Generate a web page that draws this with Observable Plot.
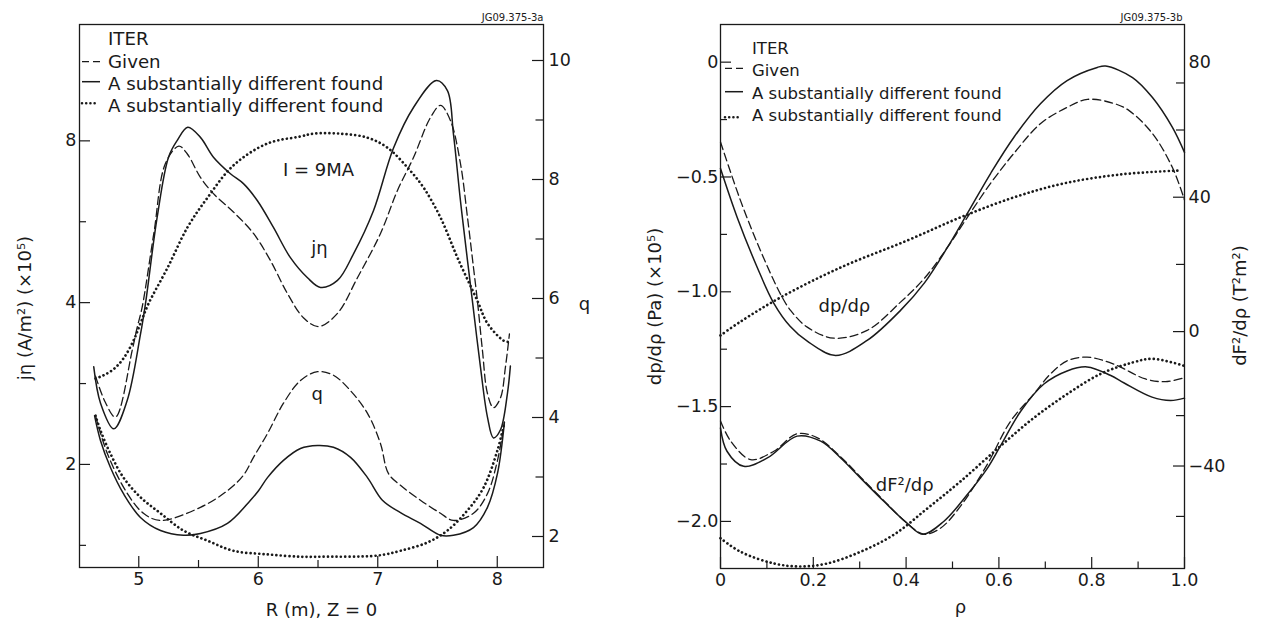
<!DOCTYPE html>
<html><head><meta charset="utf-8">
<script src="https://cdn.jsdelivr.net/npm/d3@7"></script>
<script src="https://cdn.jsdelivr.net/npm/@observablehq/plot@0.6"></script>
<style>
html,body{margin:0;padding:0;background:#fff;}
#root{position:relative;width:1265px;height:621px;overflow:hidden;}
.panel{position:absolute;top:0;height:621px;}
.panel svg{position:absolute;left:0;top:0;}
</style></head><body>
<div id="root"><div id="L" class="panel" style="left:0;width:632px"></div><div id="R" class="panel" style="left:632px;width:633px"></div></div>
<script>
// ---------- Left panel data: R (m) ----------
const R_jGiven = [4.638, 4.72, 4.805, 4.945, 4.987, 5.028, 5.126, 5.223, 5.335, 5.405, 5.516, 5.625, 5.792, 5.960, 6.102, 6.244, 6.378, 6.504, 6.663, 6.830, 7.023, 7.165, 7.299, 7.441, 7.525, 7.608, 7.692, 7.751, 7.801, 7.834, 7.876, 7.918, 7.968, 8.027, 8.069, 8.102];
const jGiven   = [2.92, 2.61, 2.45, 3.26, 3.60, 3.92, 5.38, 7.26, 7.82, 7.57, 6.84, 6.38, 5.90, 5.38, 4.79, 4.16, 3.75, 3.61, 3.82, 4.45, 5.38, 6.47, 7.45, 8.84, 9.31, 8.73, 7.26, 5.76, 4.65, 4.03, 3.26, 2.71, 2.55, 2.66, 3.04, 3.50];
const R_jFound = [4.623, 4.680, 4.791, 4.903, 5.014, 5.056, 5.154, 5.249, 5.321, 5.410, 5.516, 5.625, 5.767, 5.876, 5.993, 6.127, 6.269, 6.412, 6.521, 6.663, 6.797, 6.964, 7.131, 7.299, 7.491, 7.583, 7.633, 7.692, 7.751, 7.792, 7.859, 7.918, 7.968, 8.027, 8.085, 8.110];
const jFound   = [3.04, 2.60, 2.33, 2.63, 3.49, 3.98, 5.77, 7.46, 8.01, 8.48, 8.12, 7.46, 6.95, 6.66, 6.19, 5.52, 4.85, 4.45, 4.27, 4.40, 4.93, 5.93, 7.75, 9.23, 10.36, 9.92, 8.25, 6.19, 4.79, 4.03, 3.04, 2.45, 2.24, 2.32, 2.71, 3.05];
const R_jAlt   = [4.638, 4.705, 4.791, 4.872, 4.956, 5.014, 5.081, 5.242, 5.407, 5.575, 5.792, 6.077, 6.353, 6.462, 6.688, 6.914, 7.081, 7.248, 7.383, 7.525, 7.667, 7.834, 7.918, 8.052, 8.094];
const jAlt     = [2.89, 2.93, 3.01, 3.15, 3.40, 3.66, 3.98, 4.65, 5.52, 6.27, 7.20, 7.91, 8.15, 8.25, 8.25, 8.11, 7.77, 7.14, 6.55, 5.76, 4.85, 4.03, 3.66, 3.40, 3.38];

const R_qGiven = [4.638, 4.738, 4.905, 5.039, 5.182, 5.516, 5.742, 5.876, 5.960, 6.077, 6.211, 6.353, 6.496, 6.629, 6.772, 6.914, 7.023, 7.089, 7.190, 7.357, 7.525, 7.633, 7.801, 7.918, 8.002, 8.060];
const qGiven   = [4.03, 3.39, 2.72, 2.39, 2.27, 2.49, 2.77, 3.03, 3.33, 3.73, 4.24, 4.62, 4.77, 4.71, 4.45, 4.07, 3.56, 3.06, 2.86, 2.61, 2.39, 2.27, 2.39, 2.72, 3.28, 3.92];
const R_qFound = [4.630, 4.680, 4.763, 4.872, 5.014, 5.182, 5.374, 5.516, 5.742, 5.935, 6.002, 6.077, 6.211, 6.353, 6.496, 6.629, 6.772, 6.914, 7.039, 7.190, 7.357, 7.525, 7.633, 7.801, 7.918, 8.002, 8.060];
const qFound   = [4.03, 3.61, 3.16, 2.72, 2.32, 2.10, 2.02, 2.05, 2.22, 2.61, 2.77, 2.99, 3.28, 3.48, 3.53, 3.50, 3.33, 2.99, 2.61, 2.40, 2.22, 2.02, 2.02, 2.15, 2.49, 3.06, 3.92];
const R_qAlt   = [4.638, 4.680, 4.763, 4.872, 5.014, 5.182, 5.374, 5.575, 5.792, 6.077, 6.353, 6.521, 6.998, 7.190, 7.416, 7.583, 7.751, 7.885, 8.002, 8.060];
const qAlt     = [4.03, 3.78, 3.39, 2.99, 2.66, 2.39, 2.10, 1.93, 1.76, 1.70, 1.66, 1.66, 1.68, 1.76, 1.90, 2.10, 2.44, 2.82, 3.45, 3.92];

// ---------- Right panel data: rho ----------
const rho_dpGiven = [0, 0.043, 0.086, 0.129, 0.151, 0.187, 0.244, 0.316, 0.388, 0.440, 0.489, 0.532, 0.582, 0.632, 0.690, 0.747, 0.791, 0.848, 0.880, 0.931, 0.974, 1.0];
const dpGiven     = [-0.348, -0.602, -0.820, -1.009, -1.081, -1.154, -1.202, -1.168, -1.045, -0.940, -0.807, -0.676, -0.528, -0.398, -0.267, -0.197, -0.162, -0.180, -0.210, -0.311, -0.459, -0.60];
const rho_dpFound = [0, 0.036, 0.079, 0.115, 0.150, 0.187, 0.248, 0.316, 0.388, 0.440, 0.489, 0.532, 0.582, 0.632, 0.690, 0.747, 0.812, 0.830, 0.888, 0.931, 0.974, 1.0];
const dpFound     = [-0.463, -0.676, -0.893, -1.05, -1.15, -1.215, -1.277, -1.212, -1.081, -0.960, -0.807, -0.659, -0.485, -0.328, -0.180, -0.080, -0.023, -0.017, -0.067, -0.154, -0.284, -0.393];
const rho_dpAlt   = [0, 0.043, 0.129, 0.259, 0.402, 0.517, 0.632, 0.740, 0.862, 0.987];
const dpAlt       = [-1.19, -1.13, -1.025, -0.894, -0.777, -0.676, -0.589, -0.528, -0.489, -0.472];

const rho_dFGiven = [0, 0.022, 0.065, 0.115, 0.165, 0.209, 0.259, 0.302, 0.352, 0.402, 0.438, 0.474, 0.517, 0.575, 0.625, 0.675, 0.711, 0.747, 0.790, 0.848, 0.916, 0.959, 1.0];
const dFGiven     = [-26.6, -32.6, -38.1, -35.6, -30.4, -31.6, -37.3, -43.3, -50.3, -57.0, -60.3, -58.5, -52.0, -39.5, -26.7, -18.6, -12.6, -8.7, -7.6, -9.7, -14.1, -14.9, -13.7];
const rho_dFFound = [0, 0.014, 0.050, 0.101, 0.165, 0.216, 0.259, 0.302, 0.352, 0.402, 0.436, 0.481, 0.532, 0.575, 0.603, 0.647, 0.697, 0.747, 0.790, 0.840, 0.870, 0.930, 0.970, 1.0];
const dFFound     = [-28.7, -35.6, -40.1, -37.6, -31.1, -32.6, -37.6, -43.6, -50.5, -57.0, -60.3, -56.5, -48.5, -40.7, -34.1, -23.7, -15.6, -11.7, -10.5, -13.0, -15.3, -19.5, -20.5, -19.8];
const rho_dFAlt   = [0, 0.043, 0.115, 0.172, 0.230, 0.302, 0.374, 0.446, 0.517, 0.603, 0.675, 0.747, 0.819, 0.888, 0.931, 1.0];
const dFAlt       = [-61.5, -65.5, -69.0, -69.9, -69.0, -65.5, -60.4, -52.6, -44.6, -34.1, -25.7, -18.6, -12.6, -9.2, -8.1, -10.2];

// ---------- ticks & labels ----------
const xTicksL = [5, 6, 7, 8];        const xMinorL = [5.5, 6.5, 7.5];
const jTicks  = [2, 4, 8];           const jMinor  = [1.414, 2.828, 5.657];
const qTicks  = [2, 4, 6, 8, 10];    const qMinor  = [3, 5, 7, 9];
const rhoTicks = [0, 0.2, 0.4, 0.6, 0.8, 1.0]; const rhoMinor = [0.1, 0.3, 0.5, 0.7, 0.9];
const dpTicks = [0, -0.5, -1.0, -1.5, -2.0];   const dpMinor = [-0.25, -0.75, -1.25, -1.75];
const dFLabels = [80, 40, 0, -40];  const dFTicks = [40, 0, -40];  const dFMinor = [74, 60, 20, -25, -55];

const legendTitle = "ITER";
const legendLabels = ["Given", "A substantially different found", "A substantially different found"];
const annJ  = [{x: 6.504, y: 7.04, t: "I = 9MA"}, {x: 6.512, y: 5.06, t: "jη"}];
const annQ  = [{x: 6.494, y: 4.39, t: "q"}];
const annDp = [{x: 0.267, y: -1.064, t: "dp/dρ"}];
const annDF = [{x: 0.397, y: -45.8, t: "dF²/dρ"}];

// ---------- helpers ----------
const INK = "#1a1a1a";
const FONT = "'DejaVu Sans', sans-serif";
const S = (xs, ys) => xs.map((x, i) => ({x, y: ys[i]}));
const st = {
  given: {stroke: INK, strokeWidth: 1.3, strokeDasharray: "8,4"},
  found: {stroke: INK, strokeWidth: 1.5},
  alt:   {stroke: INK, strokeWidth: 2.7, strokeDasharray: "0.01,4.3", strokeLinecap: "round"}
};
const line = (xs, ys, s) => Plot.line(S(xs, ys), {x: "x", y: "y", curve: "catmull-rom", ...s});
const minus = v => (v < 0 ? "\u2212" : "") + Math.abs(v);
const base = (w, ml, mr, mb) => ({
  width: w, height: 621, marginLeft: ml, marginRight: mr, marginTop: 24, marginBottom: mb,
  style: {fontFamily: FONT, fontSize: "17.5px", color: INK, background: "transparent", overflow: "visible"}
});

// ===== Left panel =====
const FWL = 464, FHL = 543;
const leftA = Plot.plot({
  ...base(632, 79, 89, 54),
  x: {domain: [4.504, 8.387], ticks: xTicksL, tickSize: 0, tickPadding: 5, label: null, tickFormat: d => String(d)},
  y: {type: "log", base: 2, domain: [1.286, 13.17], ticks: jTicks, tickSize: 0, tickPadding: 3, label: null, tickFormat: d => String(d)},
  marks: [
    Plot.frame({stroke: INK, strokeWidth: 1.3}),
    Plot.ruleX(xTicksL, {x: d => d, insetTop: FHL - 11, stroke: INK, strokeWidth: 1.2}),
    Plot.ruleX(xMinorL, {x: d => d, insetTop: FHL - 7, stroke: INK, strokeWidth: 1.2}),
    Plot.ruleY(jTicks, {y: d => d, insetRight: FWL - 11, stroke: INK, strokeWidth: 1.2}),
    Plot.ruleY(jMinor, {y: d => d, insetRight: FWL - 7, stroke: INK, strokeWidth: 1.2}),
    line(R_jGiven, jGiven, st.given),
    line(R_jFound, jFound, st.found),
    line(R_jAlt, jAlt, st.alt),
    Plot.text(annJ, {x: "x", y: "y", text: "t", fontSize: 18, fill: INK}),
    Plot.text(["jη (A/m²) (×10⁵)"], {text: d => d, frameAnchor: "left", rotate: -90, dx: -54, dy: 12, fontSize: 18, fill: INK, textAnchor: "middle", lineAnchor: "middle"}),
    Plot.text(["R (m), Z = 0"], {text: d => d, frameAnchor: "bottom", dx: 10, dy: 48, fontSize: 18, fill: INK, lineAnchor: "bottom", textAnchor: "middle"}),
    Plot.text(["JG09.375-3a"], {text: d => d, frameAnchor: "top-right", dy: -4, fontSize: 10, fill: INK, lineAnchor: "bottom", textAnchor: "end"})
  ]
});
const leftB = Plot.plot({
  ...base(632, 79, 89, 54),
  x: {domain: [4.504, 8.387], axis: null},
  y: {domain: [1.479, 10.605], axis: "right", ticks: qTicks, tickSize: 0, tickPadding: 5, label: null, tickFormat: d => String(d)},
  marks: [
    Plot.ruleY(qTicks, {y: d => d, insetLeft: FWL - 11, stroke: INK, strokeWidth: 1.2}),
    Plot.ruleY(qMinor, {y: d => d, insetLeft: FWL - 7.5, stroke: INK, strokeWidth: 1.2}),
    line(R_qGiven, qGiven, st.given),
    line(R_qFound, qFound, st.found),
    line(R_qAlt, qAlt, st.alt),
    Plot.text(annQ, {x: "x", y: "y", text: "t", fontSize: 18, fill: INK}),
    Plot.text(["q"], {text: d => d, frameAnchor: "right", dx: 41, dy: 8, fontSize: 18, fill: INK, textAnchor: "middle", lineAnchor: "middle"})
  ]
});

// ===== Right panel =====
const FWR = 464, FHR = 544;
const rightA = Plot.plot({
  ...base(633, 88, 81, 53),
  x: {domain: [0, 1], ticks: rhoTicks, tickSize: 0, tickPadding: 5, label: null, tickFormat: d => d === 0 ? "0" : d.toFixed(1)},
  y: {domain: [-2.205, 0.164], ticks: dpTicks, tickSize: 0, tickPadding: 2, label: null, tickFormat: d => d === 0 ? "0" : (d < 0 ? "\u2212" : "") + Math.abs(d).toFixed(1)},
  marks: [
    Plot.frame({stroke: INK, strokeWidth: 1.3}),
    Plot.ruleX(rhoTicks, {x: d => d, insetTop: FHR - 11, stroke: INK, strokeWidth: 1.2}),
    Plot.ruleX(rhoMinor, {x: d => d, insetTop: FHR - 6.5, stroke: INK, strokeWidth: 1.2}),
    Plot.ruleY(dpTicks, {y: d => d, insetRight: FWR - 11, stroke: INK, strokeWidth: 1.2}),
    Plot.ruleY(dpMinor, {y: d => d, insetRight: FWR - 7, stroke: INK, strokeWidth: 1.2}),
    line(rho_dpGiven, dpGiven, st.given),
    line(rho_dpFound, dpFound, st.found),
    line(rho_dpAlt, dpAlt, st.alt),
    Plot.text(annDp, {x: "x", y: "y", text: "t", fontSize: 18, fill: INK}),
    Plot.text(["dp/dρ (Pa) (×10⁵)"], {text: d => d, frameAnchor: "left", rotate: -90, dx: -65, dy: 10, fontSize: 18, fill: INK, textAnchor: "middle", lineAnchor: "middle"}),
    Plot.text(["ρ"], {text: d => d, frameAnchor: "bottom", dx: 8, dy: 44, fontSize: 18, fill: INK, lineAnchor: "bottom", textAnchor: "middle"}),
    Plot.text(["JG09.375-3b"], {text: d => d, frameAnchor: "top-right", dy: -4, dx: -2, fontSize: 10, fill: INK, lineAnchor: "bottom", textAnchor: "end"})
  ]
});
const rightB = Plot.plot({
  ...base(633, 88, 81, 53),
  x: {domain: [0, 1], axis: null},
  y: {domain: [-70.5, 91.4], axis: "right", ticks: dFLabels, tickSize: 0, tickPadding: 4, label: null, tickFormat: minus},
  marks: [
    Plot.ruleY(dFTicks, {y: d => d, insetLeft: FWR - 11, stroke: INK, strokeWidth: 1.2}),
    Plot.ruleY(dFMinor, {y: d => d, insetLeft: FWR - 8, stroke: INK, strokeWidth: 1.2}),
    line(rho_dFGiven, dFGiven, st.given),
    line(rho_dFFound, dFFound, st.found),
    line(rho_dFAlt, dFAlt, st.alt),
    Plot.text(annDF, {x: "x", y: "y", text: "t", fontSize: 18, fill: INK}),
    Plot.text(["dF²/dρ (T²m²)"], {text: d => d, frameAnchor: "right", rotate: -90, dx: 56, dy: 9, fontSize: 18, fill: INK, textAnchor: "middle", lineAnchor: "middle"})
  ]
});

document.getElementById("L").append(leftA, leftB);
document.getElementById("R").append(rightA, rightB);

// ===== Legends (plain SVG overlay, not data) =====
function legend(el, o) {
  const ns = "http://www.w3.org/2000/svg";
  const svg = document.createElementNS(ns, "svg");
  svg.setAttribute("width", el.style.width); svg.setAttribute("height", 140);
  svg.style.position = "absolute"; svg.style.left = "0"; svg.style.top = "0";
  const add = (tag, attrs, txt) => { const e = document.createElementNS(ns, tag); for (const k in attrs) e.setAttribute(k, attrs[k]); if (txt) e.textContent = txt; svg.appendChild(e); };
  const tAttr = {"font-family": "DejaVu Sans, sans-serif", "font-size": o.fs, fill: INK};
  add("text", {...tAttr, x: o.tx, y: o.base[0]}, legendTitle);
  const styles = [
    {"stroke-dasharray": "7,4", "stroke-width": 1.3},
    {"stroke-width": 1.5},
    {"stroke-dasharray": "0.01,4.2", "stroke-width": 2.6, "stroke-linecap": "round"}
  ];
  legendLabels.forEach((lab, i) => {
    add("text", {...tAttr, x: o.tx, y: o.base[i + 1]}, lab);
    add("line", {x1: o.lx[0], x2: o.lx[1] - (i === 2 ? 3 : 0), y1: o.ly[i], y2: o.ly[i], stroke: INK, ...styles[i]});
  });
  el.appendChild(svg);
}
legend(document.getElementById("L"), {fs: 18.2, tx: 108, base: [45, 67.5, 90, 112], lx: [82, 100], ly: [61.7, 81.7, 103.3]});
legend(document.getElementById("R"), {fs: 16.5, tx: 120, base: [54, 76, 98.5, 121], lx: [93, 111], ly: [68.3, 91.7, 117.3]});
</script>
</body></html>
